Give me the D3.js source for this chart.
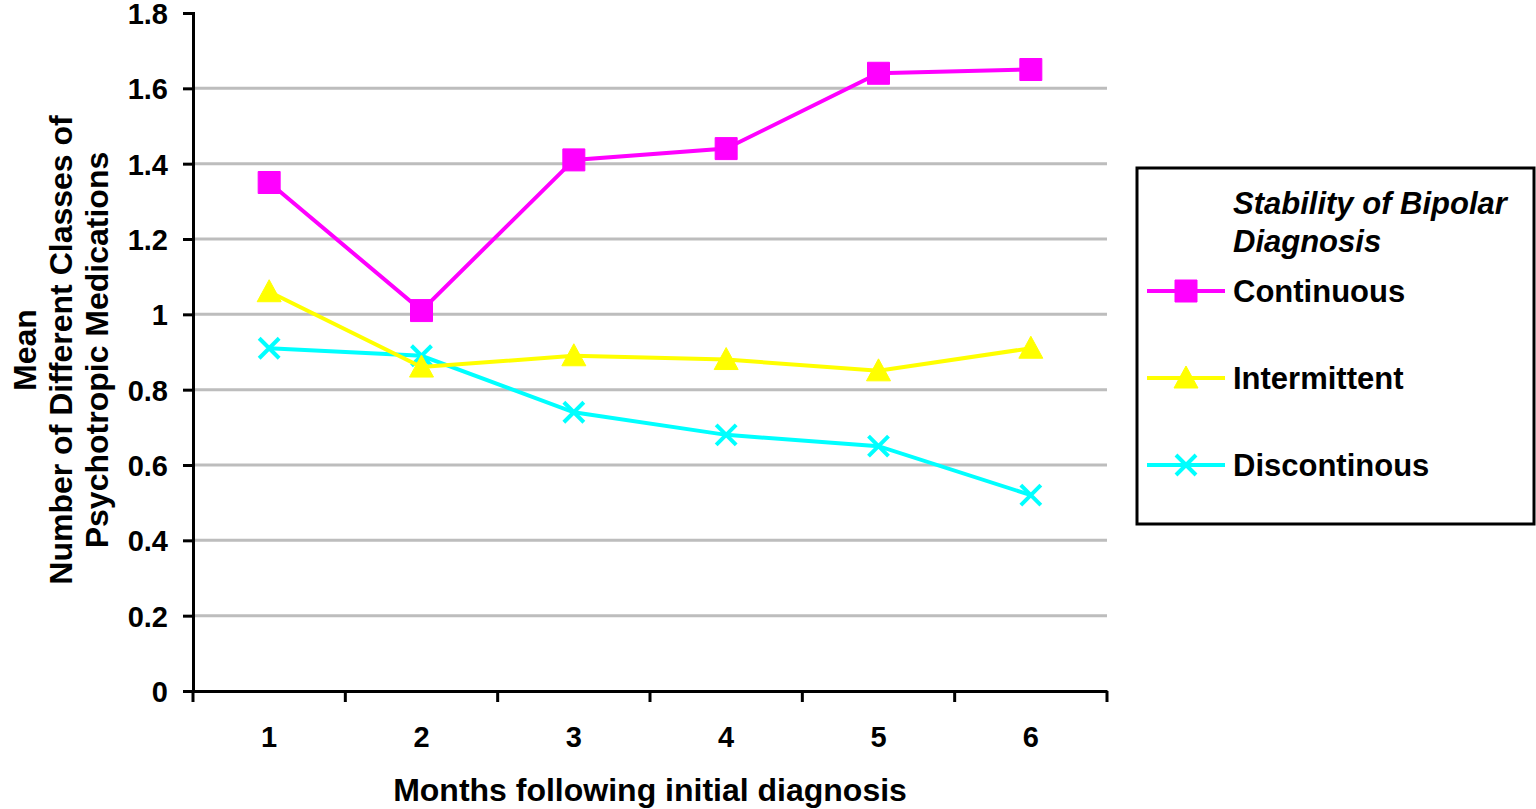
<!DOCTYPE html>
<html>
<head>
<meta charset="utf-8">
<script src="https://cdn.jsdelivr.net/npm/d3@7"></script>
<style>
    html, body { margin: 0; padding: 0; background: #fff; }
    svg { display: block; font-family: "Liberation Sans", Arial, sans-serif; font-weight: bold; }
</style>
</head>
<body>
<div id="chart"></div>
<script>
// months after initial diagnosis
var months = ["1", "2", "3", "4", "5", "6"];
// mean number of classes per group
var continuous = [1.35, 1.01, 1.41, 1.44, 1.64, 1.65];
var intermittent = [1.06, 0.86, 0.89, 0.88, 0.85, 0.91];
var discontinous = [0.91, 0.89, 0.74, 0.68, 0.65, 0.52];
var yTicks = [0, 0.2, 0.4, 0.6, 0.8, 1, 1.2, 1.4, 1.6, 1.8];
var seriesNames = ["Continuous", "Intermittent", "Discontinous"];

(function () {
    "use strict";

    var width = 1536,
        height = 809,
        margin = { top: 13, right: 429, bottom: 118, left: 193 },
        series = [
            { name: seriesNames[0], values: continuous, color: "#ff00ff", symbol: "square" },
            { name: seriesNames[1], values: intermittent, color: "#ffff00", symbol: "triangle" },
            { name: seriesNames[2], values: discontinous, color: "#00ffff", symbol: "cross" }
        ];

    var svg = d3.select("#chart").append("svg")
        .attr("width", width)
        .attr("height", height);

    var x = d3.scaleBand().domain(months).range([margin.left, width - margin.right]);
    var y = d3.scaleLinear().domain([0, 1.8]).range([height - margin.bottom, margin.top]);

    // grid lines
    svg.append("g").selectAll("line")
        .data(yTicks.filter(function (t) { return t > 0 && t < 1.8; }))
        .enter().append("line")
        .attr("x1", margin.left)
        .attr("x2", width - margin.right)
        .attr("y1", function (d) { return y(d); })
        .attr("y2", function (d) { return y(d); })
        .attr("stroke", "#bdbdbd")
        .attr("stroke-width", 3);

    // y axis
    var yAxis = svg.append("g")
        .attr("transform", "translate(" + margin.left + ",0)")
        .call(d3.axisLeft(y).tickValues(yTicks).tickSize(10).tickPadding(15)
            .tickFormat(function (d) { return d3.format("")(+d.toFixed(1)); }));
    yAxis.select(".domain").attr("stroke", "#000").attr("stroke-width", 3);
    yAxis.selectAll(".tick line").attr("stroke", "#000").attr("stroke-width", 3);
    yAxis.selectAll("text").attr("font-size", 29).attr("fill", "#000").attr("dy", "0.36em");

    // x axis, labels centred on bands and ticks between bands
    var xAxis = svg.append("g")
        .attr("transform", "translate(0," + y(0) + ")")
        .call(d3.axisBottom(x).tickSize(0).tickPadding(35));
    xAxis.select(".domain").attr("stroke", "#000").attr("stroke-width", 3);
    xAxis.selectAll("text").attr("font-size", 29).attr("fill", "#000");
    xAxis.selectAll(".sep")
        .data(months.concat(["end"]))
        .enter().append("line")
        .attr("class", "sep")
        .attr("x1", function (d) { return d === "end" ? x.range()[1] : x(d); })
        .attr("x2", function (d) { return d === "end" ? x.range()[1] : x(d); })
        .attr("y1", 0)
        .attr("y2", 11)
        .attr("stroke", "#000")
        .attr("stroke-width", 3);

    // axis titles
    svg.append("text")
        .attr("x", (margin.left + width - margin.right) / 2)
        .attr("y", 801)
        .attr("text-anchor", "middle")
        .attr("font-size", 32)
        .text("Months following initial diagnosis");

    var yTitle = svg.append("text")
        .attr("transform", "translate(36,350) rotate(-90)")
        .attr("text-anchor", "middle")
        .attr("font-size", 32);
    ["Mean", "Number of Different Classes of", "Psychotropic Medications"].forEach(function (t, i) {
        yTitle.append("tspan").attr("x", 0).attr("dy", i === 0 ? 0 : 36).text(t);
    });

    function symbolPath(type) {
        if (type === "square") {
            return "M-11,-11H11V11H-11Z";
        }
        if (type === "triangle") {
            return "M0,-12L12,10H-12Z";
        }
        return "M-10,-10L10,10M10,-10L-10,10";
    }

    function drawMarker(g, s) {
        if (s.symbol === "cross") {
            g.append("path").attr("d", symbolPath(s.symbol))
                .attr("fill", "none").attr("stroke", s.color).attr("stroke-width", 4);
        } else {
            g.append("path").attr("d", symbolPath(s.symbol))
                .attr("fill", s.color).attr("stroke", s.color).attr("stroke-width", 1)
                .attr("stroke-linejoin", "round");
        }
    }

    var line = d3.line()
        .x(function (d, i) { return x(months[i]) + x.bandwidth() / 2; })
        .y(function (d) { return y(d); });

    series.slice().reverse().forEach(function (s) {
        svg.append("path")
            .datum(s.values)
            .attr("d", line)
            .attr("fill", "none")
            .attr("stroke", s.color)
            .attr("stroke-width", 4);
        s.values.forEach(function (v, i) {
            var g = svg.append("g")
                .attr("transform", "translate(" + (x(months[i]) + x.bandwidth() / 2) + "," + y(v) + ")");
            drawMarker(g, s);
        });
    });

    // legend
    var legend = svg.append("g").attr("transform", "translate(1137,168)");
    legend.append("rect")
        .attr("width", 397)
        .attr("height", 356)
        .attr("fill", "#fff")
        .attr("stroke", "#000")
        .attr("stroke-width", 3);
    legend.append("text")
        .attr("x", 96)
        .attr("y", 46)
        .attr("font-size", 31)
        .attr("font-style", "italic")
        .selectAll("tspan")
        .data(["Stability of Bipolar", "Diagnosis"])
        .enter().append("tspan")
        .attr("x", 96)
        .attr("dy", function (d, i) { return i === 0 ? 0 : 38; })
        .text(function (d) { return d; });

    series.forEach(function (s, i) {
        var row = legend.append("g").attr("transform", "translate(0," + (123 + i * 87) + ")");
        row.append("line")
            .attr("x1", 10).attr("x2", 88)
            .attr("stroke", s.color).attr("stroke-width", 4);
        drawMarker(row.append("g").attr("transform", "translate(49,0)"), s);
        row.append("text")
            .attr("x", 96)
            .attr("dy", "0.36em")
            .attr("font-size", 31)
            .text(s.name);
    });
}());
</script>
</body>
</html>
